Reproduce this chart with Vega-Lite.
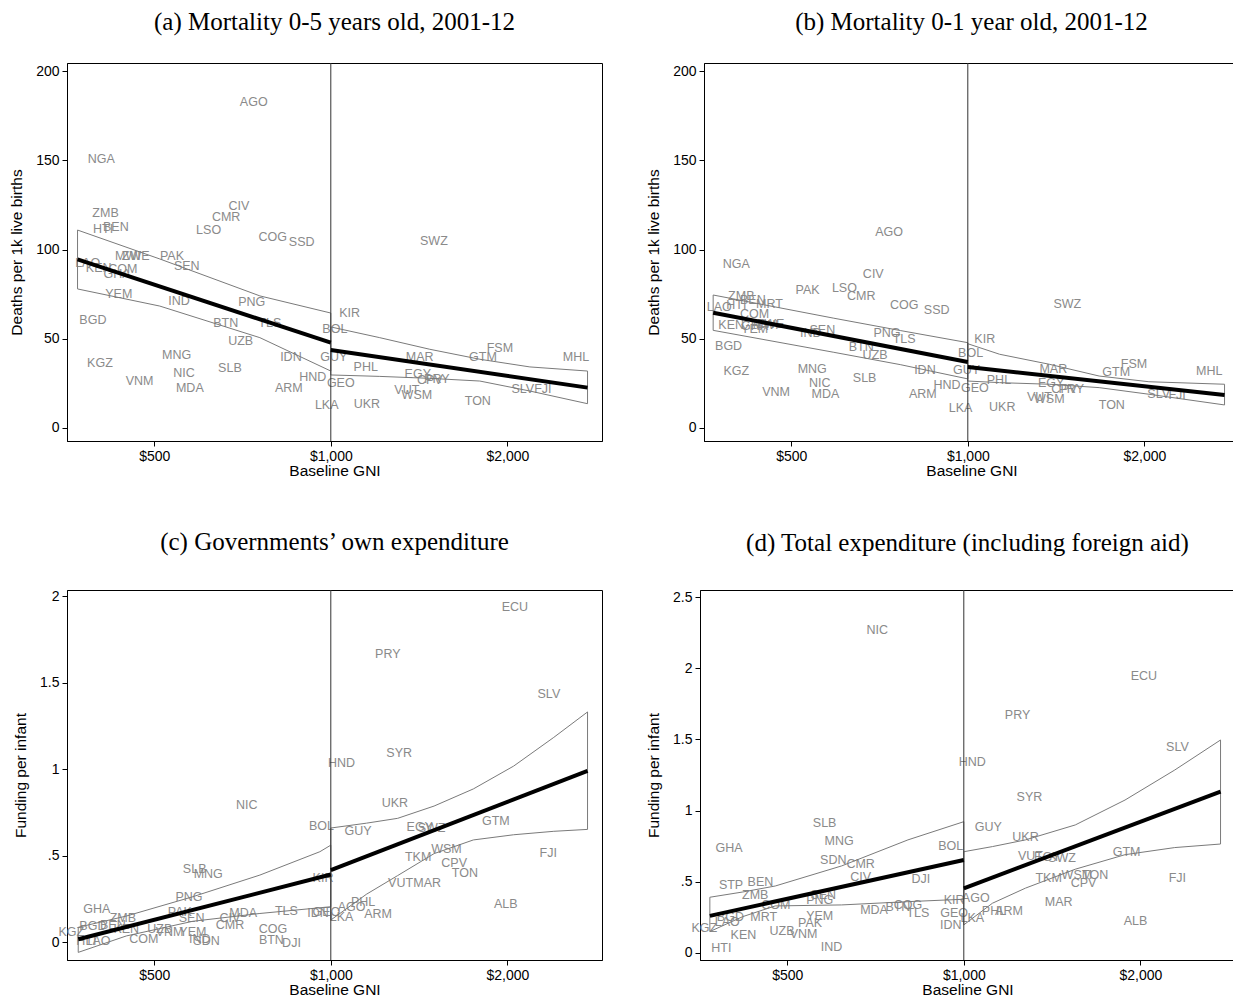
{
"$schema": "https://vega.github.io/schema/vega-lite/v6.json",
"background": "white",
"padding": {"left": 9, "top": 9, "right": 0, "bottom": 0},
"config": {
 "view": {"stroke": "black", "strokeWidth": 1},
 "axis": {"grid": false, "domainColor": "black", "tickColor": "black", "labelColor": "black", "titleColor": "black", "labelFont": "Liberation Sans", "titleFont": "Liberation Sans", "labelFontSize": 14, "titleFontSize": 15.5, "titleFontWeight": "normal", "tickSize": 5, "labelPadding": 3},
 "axisY": {"titlePadding": 11},
 "axisX": {"titlePadding": 0},
 "title": {"font": "Liberation Serif", "fontSize": 25, "fontWeight": "normal", "color": "black", "offset": 28, "anchor": "middle", "frame": "group"}
},
"datasets": {
 "aP": [
  {"c":"AGO","x":739,"y":182.6},{"c":"NGA","x":406,"y":150.7},{"c":"ZMB","x":413,"y":120.4},{"c":"HTI","x":409,"y":111.5},{"c":"BEN","x":430,"y":112.6},{"c":"CIV","x":697,"y":124.4},{"c":"CMR","x":663,"y":118.2},{"c":"LSO","x":619,"y":110.9},{"c":"COG","x":796,"y":107.0},{"c":"SSD","x":892,"y":104.2},{"c":"SWZ","x":1499,"y":104.8},{"c":"MWI","x":451,"y":96.4},{"c":"ZWE","x":465,"y":96.4},{"c":"PAK","x":536,"y":96.4},{"c":"SEN","x":568,"y":90.8},{"c":"LAO","x":385,"y":92.4},{"c":"KEN","x":402,"y":89.6},{"c":"COM","x":442,"y":89.1},{"c":"GHA","x":432,"y":86.3},{"c":"YEM","x":435,"y":75.1},{"c":"IND","x":551,"y":71.1},{"c":"PNG","x":733,"y":70.6},{"c":"BGD","x":393,"y":60.5},{"c":"BTN","x":662,"y":58.8},{"c":"TLS","x":787,"y":58.8},{"c":"KIR","x":1077,"y":64.4},{"c":"BOL","x":1016,"y":55.5},{"c":"UZB","x":702,"y":48.7},{"c":"IDN","x":855,"y":39.8},{"c":"GUY","x":1012,"y":39.8},{"c":"MNG","x":546,"y":40.9},{"c":"KGZ","x":404,"y":36.4},{"c":"NIC","x":562,"y":30.8},{"c":"SLB","x":673,"y":33.6},{"c":"VNM","x":472,"y":26.3},{"c":"MDA","x":575,"y":22.4},{"c":"HND","x":932,"y":28.6},{"c":"ARM","x":848,"y":22.4},{"c":"GEO","x":1040,"y":25.2},{"c":"LKA","x":984,"y":12.9},{"c":"PHL","x":1147,"y":34.2},{"c":"MAR","x":1418,"y":39.8},{"c":"GTM","x":1817,"y":39.8},{"c":"FSM","x":1942,"y":44.8},{"c":"MHL","x":2618,"y":39.5},{"c":"EGY","x":1407,"y":30.3},{"c":"CPV","x":1475,"y":26.9},{"c":"PRY","x":1516,"y":27.5},{"c":"VUT","x":1348,"y":21.3},{"c":"WSM","x":1402,"y":18.5},{"c":"UKR","x":1152,"y":13.4},{"c":"TON","x":1781,"y":15.1},{"c":"SLV","x":2125,"y":21.8},{"c":"FJI","x":2299,"y":21.8}
 ],
 "aF": [
  {"seg":"L","x":370,"y":94.5},{"seg":"L","x":1000,"y":47.8},{"seg":"R","x":1000,"y":43.7},{"seg":"R","x":2740,"y":22.6}
 ],
 "aC": [
  {"seg":"L","x":370,"hi":110.9,"lo":77.9},{"seg":"L","x":511,"hi":94.7,"lo":68.3},{"seg":"L","x":757,"hi":74.0,"lo":50.6},{"seg":"L","x":1000,"hi":64.4,"lo":31.9},
  {"seg":"R","x":1000,"hi":56.6,"lo":29.7},{"seg":"R","x":1212,"hi":50.6,"lo":28.9},{"seg":"R","x":1475,"hi":44.1,"lo":27.8},{"seg":"R","x":1795,"hi":38.5,"lo":26.3},{"seg":"R","x":2185,"hi":34.2,"lo":20.7},{"seg":"R","x":2740,"hi":31.9,"lo":13.6}
 ],
 "bP": [
  {"c":"AGO","x":734,"y":109.8},{"c":"NGA","x":403,"y":91.9},{"c":"CIV","x":690,"y":86.3},{"c":"PAK","x":533,"y":77.1},{"c":"LSO","x":616,"y":78.6},{"c":"CMR","x":658,"y":73.9},{"c":"COG","x":779,"y":68.9},{"c":"SSD","x":885,"y":66.1},{"c":"SWZ","x":1478,"y":69.5},{"c":"ZMB","x":411,"y":73.9},{"c":"BEN","x":430,"y":71.5},{"c":"LAO","x":377,"y":67.8},{"c":"HTI","x":403,"y":68.7},{"c":"MRT","x":459,"y":69.3},{"c":"COM","x":433,"y":64.0},{"c":"KEN","x":395,"y":57.7},{"c":"GHA","x":433,"y":57.0},{"c":"YEM","x":433,"y":55.5},{"c":"MWI","x":452,"y":57.8},{"c":"ZWE","x":461,"y":58.4},{"c":"IND","x":540,"y":53.4},{"c":"SEN","x":565,"y":54.7},{"c":"PNG","x":728,"y":53.4},{"c":"TLS","x":779,"y":49.7},{"c":"BTN","x":658,"y":45.4},{"c":"UZB","x":695,"y":40.9},{"c":"BGD","x":391,"y":45.9},{"c":"KIR","x":1069,"y":49.7},{"c":"BOL","x":1011,"y":42.2},{"c":"IDN","x":845,"y":32.3},{"c":"GUY","x":995,"y":32.3},{"c":"KGZ","x":403,"y":31.9},{"c":"MNG","x":543,"y":32.9},{"c":"NIC","x":559,"y":25.4},{"c":"SLB","x":667,"y":27.8},{"c":"VNM","x":471,"y":20.3},{"c":"MDA","x":572,"y":18.9},{"c":"HND","x":922,"y":24.1},{"c":"ARM","x":838,"y":19.2},{"c":"GEO","x":1028,"y":22.2},{"c":"LKA","x":972,"y":11.4},{"c":"PHL","x":1130,"y":26.7},{"c":"UKR","x":1145,"y":11.8},{"c":"MAR","x":1399,"y":32.9},{"c":"GTM","x":1791,"y":31.5},{"c":"FSM","x":1920,"y":36.0},{"c":"MHL","x":2580,"y":31.9},{"c":"EGY","x":1387,"y":25.4},{"c":"CPV","x":1460,"y":22.0},{"c":"PRY","x":1501,"y":22.0},{"c":"VUT","x":1325,"y":17.4},{"c":"WSM","x":1377,"y":16.1},{"c":"TON","x":1760,"y":12.9},{"c":"SLV","x":2116,"y":18.9},{"c":"FJI","x":2274,"y":18.5}
 ],
 "bF": [
  {"seg":"L","x":368,"y":64.6},{"seg":"L","x":1000,"y":37.0},{"seg":"R","x":1000,"y":34.2},{"seg":"R","x":2740,"y":18.5}
 ],
 "bC": [
  {"seg":"L","x":368,"hi":74.5,"lo":54.7},{"seg":"L","x":591,"hi":61.5,"lo":42.4},{"seg":"L","x":767,"hi":54.6,"lo":35.5},{"seg":"L","x":1000,"hi":47.8,"lo":27.5},
  {"seg":"R","x":1000,"hi":47.2,"lo":26.3},{"seg":"R","x":1133,"hi":41.3,"lo":25.4},{"seg":"R","x":1377,"hi":35.7,"lo":24.5},{"seg":"R","x":1675,"hi":29.1,"lo":22.6},{"seg":"R","x":2036,"hi":25.9,"lo":18.9},{"seg":"R","x":2740,"hi":24.5,"lo":12.9}
 ],
 "cP": [
  {"c":"ECU","x":2060,"y":1.936},{"c":"PRY","x":1251,"y":1.665},{"c":"SLV","x":2354,"y":1.434},{"c":"SYR","x":1308,"y":1.094},{"c":"HND","x":1043,"y":1.033},{"c":"UKR","x":1286,"y":0.802},{"c":"NIC","x":719,"y":0.792},{"c":"BOL","x":964,"y":0.671},{"c":"GUY","x":1113,"y":0.643},{"c":"EGY","x":1418,"y":0.667},{"c":"SWZ","x":1485,"y":0.657},{"c":"GTM","x":1912,"y":0.701},{"c":"FJI","x":2348,"y":0.516},{"c":"TKM","x":1409,"y":0.493},{"c":"WSM","x":1575,"y":0.536},{"c":"CPV","x":1623,"y":0.455},{"c":"TON","x":1693,"y":0.397},{"c":"VUT","x":1315,"y":0.343},{"c":"MAR","x":1460,"y":0.343},{"c":"ALB","x":1988,"y":0.220},{"c":"PHL","x":1135,"y":0.233},{"c":"ARM","x":1204,"y":0.162},{"c":"AGO","x":1085,"y":0.204},{"c":"LKA","x":1043,"y":0.146},{"c":"GEO","x":983,"y":0.175},{"c":"IDN","x":951,"y":0.169},{"c":"KIR","x":970,"y":0.368},{"c":"SLB","x":586,"y":0.420},{"c":"MNG","x":618,"y":0.393},{"c":"PNG","x":573,"y":0.262},{"c":"GHA","x":399,"y":0.189},{"c":"ZMB","x":442,"y":0.137},{"c":"PAK","x":553,"y":0.175},{"c":"SEN","x":579,"y":0.137},{"c":"MDA","x":709,"y":0.169},{"c":"CIV","x":673,"y":0.141},{"c":"CMR","x":673,"y":0.098},{"c":"TLS","x":840,"y":0.181},{"c":"COG","x":797,"y":0.073},{"c":"BTN","x":792,"y":0.012},{"c":"DJI","x":857,"y":-0.008},{"c":"COM","x":480,"y":0.016},{"c":"UZB","x":511,"y":0.073},{"c":"VNM","x":531,"y":0.060},{"c":"YEM","x":582,"y":0.060},{"c":"IND","x":598,"y":0.016},{"c":"SDN","x":614,"y":0.008},{"c":"KGZ","x":361,"y":0.060},{"c":"BGD","x":393,"y":0.092},{"c":"BEN","x":425,"y":0.098},{"c":"KEN","x":448,"y":0.073},{"c":"HTI","x":383,"y":0.008},{"c":"LAO","x":401,"y":0.008}
 ],
 "cF": [
  {"seg":"L","x":371,"y":0.016},{"seg":"L","x":1000,"y":0.390},{"seg":"R","x":1000,"y":0.415},{"seg":"R","x":2740,"y":0.990}
 ],
 "cC": [
  {"seg":"L","x":371,"hi":0.085,"lo":-0.06},{"seg":"L","x":448,"hi":0.15,"lo":0.035},{"seg":"L","x":582,"hi":0.262,"lo":0.12},{"seg":"L","x":757,"hi":0.387,"lo":0.165},{"seg":"L","x":958,"hi":0.522,"lo":0.198},{"seg":"L","x":1000,"hi":0.56,"lo":0.204},
  {"seg":"R","x":1000,"hi":0.659,"lo":0.127},{"seg":"R","x":1150,"hi":0.687,"lo":0.276},{"seg":"R","x":1300,"hi":0.715,"lo":0.384},{"seg":"R","x":1500,"hi":0.786,"lo":0.511},{"seg":"R","x":1750,"hi":0.885,"lo":0.59},{"seg":"R","x":2050,"hi":1.017,"lo":0.62},{"seg":"R","x":2400,"hi":1.183,"lo":0.64},{"seg":"R","x":2740,"hi":1.33,"lo":0.651}
 ],
 "dP": [
  {"c":"NIC","x":712,"y":2.268},{"c":"ECU","x":2028,"y":1.945},{"c":"PRY","x":1235,"y":1.671},{"c":"SLV","x":2313,"y":1.444},{"c":"HND","x":1034,"y":1.343},{"c":"SYR","x":1294,"y":1.098},{"c":"GUY","x":1101,"y":0.883},{"c":"UKR","x":1274,"y":0.812},{"c":"BOL","x":950,"y":0.751},{"c":"VUT","x":1299,"y":0.681},{"c":"EGY","x":1388,"y":0.674},{"c":"SWZ","x":1470,"y":0.665},{"c":"GTM","x":1895,"y":0.711},{"c":"TKM","x":1395,"y":0.525},{"c":"WSM","x":1559,"y":0.548},{"c":"TON","x":1675,"y":0.548},{"c":"CPV","x":1600,"y":0.494},{"c":"FJI","x":2313,"y":0.525},{"c":"MAR","x":1451,"y":0.360},{"c":"ALB","x":1963,"y":0.227},{"c":"AGO","x":1048,"y":0.388},{"c":"KIR","x":963,"y":0.372},{"c":"PHL","x":1126,"y":0.297},{"c":"ARM","x":1194,"y":0.297},{"c":"GEO","x":963,"y":0.279},{"c":"LKA","x":1034,"y":0.244},{"c":"IDN","x":950,"y":0.197},{"c":"SLB","x":579,"y":0.911},{"c":"MNG","x":613,"y":0.787},{"c":"GHA","x":398,"y":0.735},{"c":"SDN","x":599,"y":0.653},{"c":"CMR","x":667,"y":0.625},{"c":"CIV","x":667,"y":0.536},{"c":"DJI","x":845,"y":0.518},{"c":"STP","x":401,"y":0.475},{"c":"BEN","x":450,"y":0.499},{"c":"ZMB","x":441,"y":0.407},{"c":"SEN","x":576,"y":0.407},{"c":"PNG","x":568,"y":0.372},{"c":"COM","x":478,"y":0.337},{"c":"MDA","x":703,"y":0.302},{"c":"BTN","x":772,"y":0.321},{"c":"COG","x":803,"y":0.337},{"c":"TLS","x":835,"y":0.279},{"c":"BGD","x":400,"y":0.251},{"c":"MRT","x":456,"y":0.251},{"c":"YEM","x":568,"y":0.260},{"c":"PAK","x":547,"y":0.213},{"c":"KGZ","x":361,"y":0.173},{"c":"LAO","x":395,"y":0.220},{"c":"KEN","x":421,"y":0.126},{"c":"UZB","x":490,"y":0.157},{"c":"VNM","x":533,"y":0.133},{"c":"HTI","x":386,"y":0.037},{"c":"IND","x":595,"y":0.044}
 ],
 "dF": [
  {"seg":"L","x":369,"y":0.26},{"seg":"L","x":1000,"y":0.653},{"seg":"R","x":1000,"y":0.454},{"seg":"R","x":2740,"y":1.133}
 ],
 "dC": [
  {"seg":"L","x":369,"hi":0.391,"lo":0.150},{"seg":"L","x":420,"hi":0.428,"lo":0.255},{"seg":"L","x":477,"hi":0.47,"lo":0.33},{"seg":"L","x":619,"hi":0.611,"lo":0.337},{"seg":"L","x":803,"hi":0.794,"lo":0.36},{"seg":"L","x":1000,"hi":0.922,"lo":0.377},
  {"seg":"R","x":1000,"hi":0.711,"lo":0.197},{"seg":"R","x":1119,"hi":0.747,"lo":0.349},{"seg":"R","x":1274,"hi":0.794,"lo":0.455},{"seg":"R","x":1549,"hi":0.899,"lo":0.588},{"seg":"R","x":1883,"hi":1.074,"lo":0.69},{"seg":"R","x":2289,"hi":1.285,"lo":0.74},{"seg":"R","x":2740,"hi":1.496,"lo":0.765}
 ]
},
"spacing": 50,
"vconcat": [
 {"spacing": 43, "hconcat": [
  {"title": "(a) Mortality 0-5 years old, 2001-12", "width": 535, "height": 378, "layer": [
   {"data": {"name": "aP"}, "mark": {"type": "text", "font": "Liberation Sans", "fontSize": 12.5, "color": "#8a8a8a"},
    "encoding": {"x": {"field": "x", "type": "quantitative", "scale": {"type": "log", "domain": [355, 2900], "nice": false}, "axis": {"values": [500, 1000, 2000], "format": "$,.0f", "title": "Baseline GNI"}},
     "y": {"field": "y", "type": "quantitative", "scale": {"domain": [-7.3, 204.5], "nice": false, "zero": false}, "axis": {"values": [0, 50, 100, 150, 200], "title": "Deaths per 1k live births"}},
     "text": {"field": "c"}}},
   {"data": {"name": "aC"}, "mark": {"type": "area", "fillOpacity": 0, "stroke": "#7a7a7a", "strokeWidth": 1},
    "encoding": {"x": {"field": "x", "type": "quantitative", "scale": {"type": "log", "domain": [355, 2900], "nice": false}, "axis": {"values": [500, 1000, 2000], "format": "$,.0f", "title": "Baseline GNI"}},
     "y": {"field": "hi", "type": "quantitative", "scale": {"domain": [-7.3, 204.5], "nice": false, "zero": false}, "axis": {"values": [0, 50, 100, 150, 200], "title": "Deaths per 1k live births"}},
     "y2": {"field": "lo"}, "detail": {"field": "seg"}}},
   {"data": {"values": [{"x": 1000}]}, "mark": {"type": "rule", "color": "#333", "strokeWidth": 1},
    "encoding": {"x": {"field": "x", "type": "quantitative", "scale": {"type": "log", "domain": [355, 2900], "nice": false}, "axis": {"values": [500, 1000, 2000], "format": "$,.0f", "title": "Baseline GNI"}}}},
   {"data": {"name": "aF"}, "mark": {"type": "line", "color": "black", "strokeWidth": 4},
    "encoding": {"x": {"field": "x", "type": "quantitative", "scale": {"type": "log", "domain": [355, 2900], "nice": false}, "axis": {"values": [500, 1000, 2000], "format": "$,.0f", "title": "Baseline GNI"}},
     "y": {"field": "y", "type": "quantitative", "scale": {"domain": [-7.3, 204.5], "nice": false, "zero": false}, "axis": {"values": [0, 50, 100, 150, 200], "title": "Deaths per 1k live births"}},
     "detail": {"field": "seg"}}}
  ]},
  {"title": "(b) Mortality 0-1 year old, 2001-12", "width": 535, "height": 378, "layer": [
   {"data": {"name": "bP"}, "mark": {"type": "text", "font": "Liberation Sans", "fontSize": 12.5, "color": "#8a8a8a"},
    "encoding": {"x": {"field": "x", "type": "quantitative", "scale": {"type": "log", "domain": [355, 2900], "nice": false}, "axis": {"values": [500, 1000, 2000], "format": "$,.0f", "title": "Baseline GNI"}},
     "y": {"field": "y", "type": "quantitative", "scale": {"domain": [-7.3, 204.5], "nice": false, "zero": false}, "axis": {"values": [0, 50, 100, 150, 200], "title": "Deaths per 1k live births"}},
     "text": {"field": "c"}}},
   {"data": {"name": "bC"}, "mark": {"type": "area", "fillOpacity": 0, "stroke": "#7a7a7a", "strokeWidth": 1},
    "encoding": {"x": {"field": "x", "type": "quantitative", "scale": {"type": "log", "domain": [355, 2900], "nice": false}, "axis": {"values": [500, 1000, 2000], "format": "$,.0f", "title": "Baseline GNI"}},
     "y": {"field": "hi", "type": "quantitative", "scale": {"domain": [-7.3, 204.5], "nice": false, "zero": false}, "axis": {"values": [0, 50, 100, 150, 200], "title": "Deaths per 1k live births"}},
     "y2": {"field": "lo"}, "detail": {"field": "seg"}}},
   {"data": {"values": [{"x": 1000}]}, "mark": {"type": "rule", "color": "#333", "strokeWidth": 1},
    "encoding": {"x": {"field": "x", "type": "quantitative", "scale": {"type": "log", "domain": [355, 2900], "nice": false}, "axis": {"values": [500, 1000, 2000], "format": "$,.0f", "title": "Baseline GNI"}}}},
   {"data": {"name": "bF"}, "mark": {"type": "line", "color": "black", "strokeWidth": 4},
    "encoding": {"x": {"field": "x", "type": "quantitative", "scale": {"type": "log", "domain": [355, 2900], "nice": false}, "axis": {"values": [500, 1000, 2000], "format": "$,.0f", "title": "Baseline GNI"}},
     "y": {"field": "y", "type": "quantitative", "scale": {"domain": [-7.3, 204.5], "nice": false, "zero": false}, "axis": {"values": [0, 50, 100, 150, 200], "title": "Deaths per 1k live births"}},
     "detail": {"field": "seg"}}}
  ]}
 ]},
 {"spacing": 43, "hconcat": [
  {"title": {"text": "(c) Governments’ own expenditure", "offset": 34}, "width": 535, "height": 370, "layer": [
   {"data": {"name": "cP"}, "mark": {"type": "text", "font": "Liberation Sans", "fontSize": 12.5, "color": "#8a8a8a"},
    "encoding": {"x": {"field": "x", "type": "quantitative", "scale": {"type": "log", "domain": [355, 2900], "nice": false}, "axis": {"values": [500, 1000, 2000], "format": "$,.0f", "title": "Baseline GNI"}},
     "y": {"field": "y", "type": "quantitative", "scale": {"domain": [-0.104, 2.035], "nice": false, "zero": false}, "axis": {"values": [0, 0.5, 1, 1.5, 2], "format": "~g", "labelExpr": "replace(datum.label, '0.', '.')", "title": "Funding per infant"}},
     "text": {"field": "c"}}},
   {"data": {"name": "cC"}, "mark": {"type": "area", "fillOpacity": 0, "stroke": "#7a7a7a", "strokeWidth": 1},
    "encoding": {"x": {"field": "x", "type": "quantitative", "scale": {"type": "log", "domain": [355, 2900], "nice": false}, "axis": {"values": [500, 1000, 2000], "format": "$,.0f", "title": "Baseline GNI"}},
     "y": {"field": "hi", "type": "quantitative", "scale": {"domain": [-0.104, 2.035], "nice": false, "zero": false}, "axis": {"values": [0, 0.5, 1, 1.5, 2], "format": "~g", "labelExpr": "replace(datum.label, '0.', '.')", "title": "Funding per infant"}},
     "y2": {"field": "lo"}, "detail": {"field": "seg"}}},
   {"data": {"values": [{"x": 1000}]}, "mark": {"type": "rule", "color": "#333", "strokeWidth": 1},
    "encoding": {"x": {"field": "x", "type": "quantitative", "scale": {"type": "log", "domain": [355, 2900], "nice": false}, "axis": {"values": [500, 1000, 2000], "format": "$,.0f", "title": "Baseline GNI"}}}},
   {"data": {"name": "cF"}, "mark": {"type": "line", "color": "black", "strokeWidth": 4},
    "encoding": {"x": {"field": "x", "type": "quantitative", "scale": {"type": "log", "domain": [355, 2900], "nice": false}, "axis": {"values": [500, 1000, 2000], "format": "$,.0f", "title": "Baseline GNI"}},
     "y": {"field": "y", "type": "quantitative", "scale": {"domain": [-0.104, 2.035], "nice": false, "zero": false}, "axis": {"values": [0, 0.5, 1, 1.5, 2], "format": "~g", "labelExpr": "replace(datum.label, '0.', '.')", "title": "Funding per infant"}},
     "detail": {"field": "seg"}}}
  ]},
  {"title": {"text": "(d) Total expenditure (including foreign aid)", "offset": 34}, "width": 535, "height": 370, "layer": [
   {"data": {"name": "dP"}, "mark": {"type": "text", "font": "Liberation Sans", "fontSize": 12.5, "color": "#8a8a8a"},
    "encoding": {"x": {"field": "x", "type": "quantitative", "scale": {"type": "log", "domain": [355, 2900], "nice": false}, "axis": {"values": [500, 1000, 2000], "format": "$,.0f", "title": "Baseline GNI"}},
     "y": {"field": "y", "type": "quantitative", "scale": {"domain": [-0.05, 2.55], "nice": false, "zero": false}, "axis": {"values": [0, 0.5, 1, 1.5, 2, 2.5], "format": "~g", "labelExpr": "replace(datum.label, '0.', '.')", "title": "Funding per infant"}},
     "text": {"field": "c"}}},
   {"data": {"name": "dC"}, "mark": {"type": "area", "fillOpacity": 0, "stroke": "#7a7a7a", "strokeWidth": 1},
    "encoding": {"x": {"field": "x", "type": "quantitative", "scale": {"type": "log", "domain": [355, 2900], "nice": false}, "axis": {"values": [500, 1000, 2000], "format": "$,.0f", "title": "Baseline GNI"}},
     "y": {"field": "hi", "type": "quantitative", "scale": {"domain": [-0.05, 2.55], "nice": false, "zero": false}, "axis": {"values": [0, 0.5, 1, 1.5, 2, 2.5], "format": "~g", "labelExpr": "replace(datum.label, '0.', '.')", "title": "Funding per infant"}},
     "y2": {"field": "lo"}, "detail": {"field": "seg"}}},
   {"data": {"values": [{"x": 1000}]}, "mark": {"type": "rule", "color": "#333", "strokeWidth": 1},
    "encoding": {"x": {"field": "x", "type": "quantitative", "scale": {"type": "log", "domain": [355, 2900], "nice": false}, "axis": {"values": [500, 1000, 2000], "format": "$,.0f", "title": "Baseline GNI"}}}},
   {"data": {"name": "dF"}, "mark": {"type": "line", "color": "black", "strokeWidth": 4},
    "encoding": {"x": {"field": "x", "type": "quantitative", "scale": {"type": "log", "domain": [355, 2900], "nice": false}, "axis": {"values": [500, 1000, 2000], "format": "$,.0f", "title": "Baseline GNI"}},
     "y": {"field": "y", "type": "quantitative", "scale": {"domain": [-0.05, 2.55], "nice": false, "zero": false}, "axis": {"values": [0, 0.5, 1, 1.5, 2, 2.5], "format": "~g", "labelExpr": "replace(datum.label, '0.', '.')", "title": "Funding per infant"}},
     "detail": {"field": "seg"}}}
  ]}
 ]}
]
}
